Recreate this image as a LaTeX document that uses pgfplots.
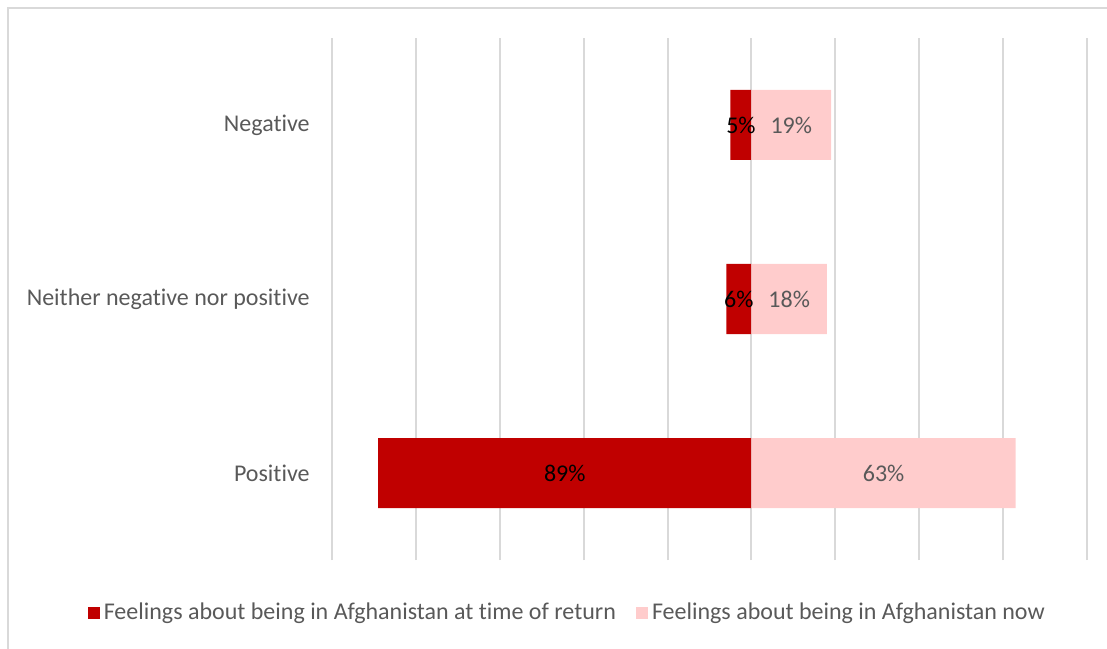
\documentclass[border=0pt]{standalone}
\usepackage{fontspec}
\setmainfont[Ligatures={NoCommon,NoRare,NoContextual},Contextuals=NoAlternate]{Carlito}
\usepackage{pgfplots}
\pgfplotsset{compat=1.18}
\definecolor{darkred}{HTML}{C00000}
\definecolor{lightpink}{HTML}{FFCCCC}
\definecolor{txt}{HTML}{595959}
\definecolor{gridc}{HTML}{D9D9D9}
\newcommand{\cf}{\fontsize{12}{14.4}\selectfont}
\begin{document}
\begin{tikzpicture}
\useasboundingbox (0,0) rectangle (553.5pt,324pt);
\draw[gridc, line width=1pt] (4pt,320pt) rectangle (575pt,-20pt);
\begin{axis}[
  at={(166pt,44pt)}, anchor=south west,
  scale only axis, width=377.5pt, height=261pt,
  xmin=-100, xmax=80, ymin=-0.5, ymax=2.5,
  xtick={-100,-80,...,80}, xticklabels={},
  ytick={0,1,2},
  yticklabels={Positive,Neither negative nor positive,Negative},
  yticklabel style={anchor=east, inner sep=0pt, xshift=-11pt, text=txt, font=\cf},
  major tick length=0pt,
  axis line style={draw=none},
  xmajorgrids, grid style={gridc, line width=1pt},
  legend style={at={(0.313,-0.1015)}, anchor=center, draw=none, fill=none,
    legend columns=-1, font=\cf, text=txt,
    /tikz/every even column/.append style={column sep=8pt}},
]
\addplot[xbar, bar width=35pt, bar shift=0pt, fill=darkred, draw=none,
  legend image code/.code={\fill[darkred] (0pt,-3pt) rectangle (6pt,3pt);}]
  coordinates {(-89,0) (-6,1) (-5,2)};
\addlegendentry{Feelings about being in Afghanistan at time of return}
\addplot[xbar, bar width=35pt, bar shift=0pt, fill=lightpink, draw=none,
  legend image code/.code={\fill[lightpink] (0pt,-3pt) rectangle (6pt,3pt);}]
  coordinates {(63,0) (18,1) (19,2)};
\addlegendentry{Feelings about being in Afghanistan now}
\addplot[forget plot, draw=none, mark=none, nodes near coords,
  point meta=explicit symbolic,
  nodes near coords style={anchor=center, text=black, font=\cf}]
  coordinates {(-44.5,0) [89\%] (-3,1) [6\%] (-2.5,2) [5\%]};
\addplot[forget plot, draw=none, mark=none, nodes near coords,
  point meta=explicit symbolic,
  nodes near coords style={anchor=center, text=txt, font=\cf}]
  coordinates {(31.5,0) [63\%] (9,1) [18\%] (9.5,2) [19\%]};
\end{axis}
\end{tikzpicture}
\end{document}
